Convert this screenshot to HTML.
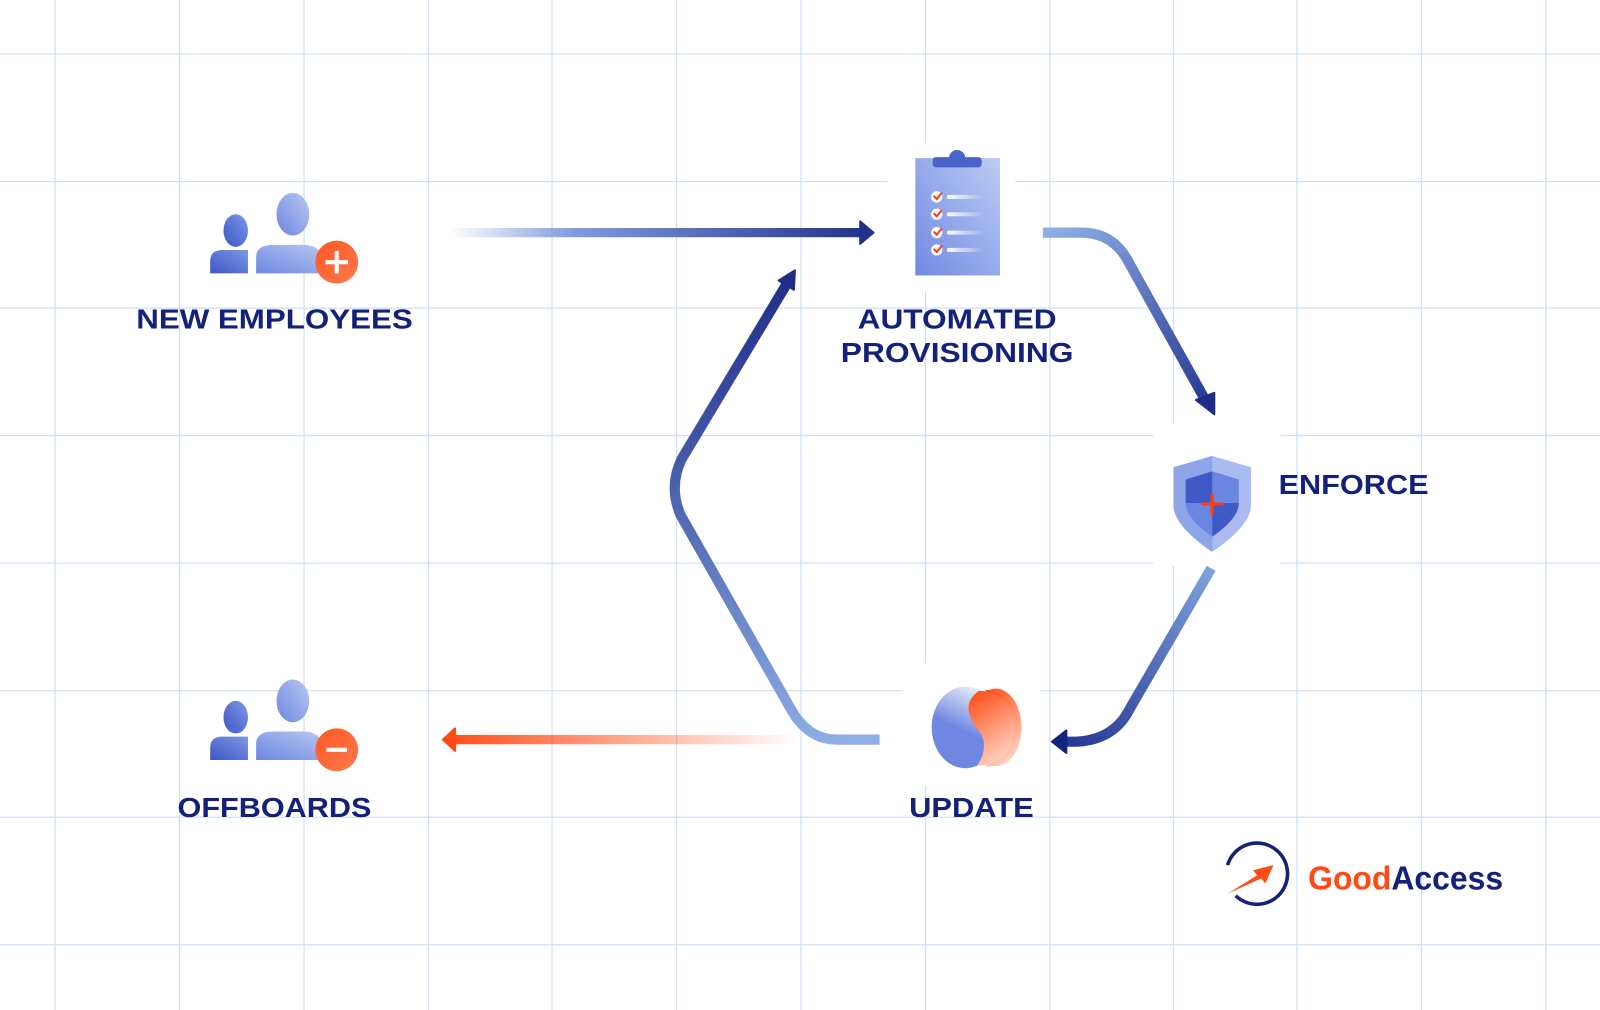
<!DOCTYPE html>
<html><head><meta charset="utf-8"><style>
html,body{margin:0;padding:0;background:#fff;width:1600px;height:1010px;overflow:hidden}
svg{display:block}
text{font-family:"Liberation Sans",Arial,sans-serif;font-weight:bold;fill:#14217a}
</style></head><body>
<svg width="1600" height="1010" viewBox="0 0 1568 990" preserveAspectRatio="none" xmlns="http://www.w3.org/2000/svg">
<defs>
<linearGradient id="hArr" x1="440" y1="0" x2="855" y2="0" gradientUnits="userSpaceOnUse"><stop offset="0" stop-color="#7f9ae0" stop-opacity="0"/><stop offset="0.3" stop-color="#7f9ae0"/><stop offset="1" stop-color="#22318a"/></linearGradient>
<linearGradient id="oArr" x1="785" y1="0" x2="435" y2="0" gradientUnits="userSpaceOnUse"><stop offset="0" stop-color="#ff5722" stop-opacity="0"/><stop offset="1" stop-color="#ff4a15"/></linearGradient>
<linearGradient id="a1" x1="1022" y1="228" x2="1187" y2="405" gradientUnits="userSpaceOnUse"><stop offset="0" stop-color="#8fb0e6"/><stop offset="1" stop-color="#233490"/></linearGradient>
<linearGradient id="a2" x1="1187" y1="557" x2="1035" y2="727" gradientUnits="userSpaceOnUse"><stop offset="0" stop-color="#7fa3dc"/><stop offset="1" stop-color="#243592"/></linearGradient>
<linearGradient id="a3" x1="862" y1="725" x2="777" y2="268" gradientUnits="userSpaceOnUse"><stop offset="0" stop-color="#8fb0e6"/><stop offset="1" stop-color="#1e2d88"/></linearGradient>
<linearGradient id="clip" x1="0" y1="1" x2="1" y2="0"><stop offset="0" stop-color="#7189e3"/><stop offset="1" stop-color="#bcccf3"/></linearGradient>
<linearGradient id="pers" x1="0" y1="1" x2="1" y2="0"><stop offset="0" stop-color="#6d87e0"/><stop offset="1" stop-color="#b9c8f2"/></linearGradient>
<linearGradient id="persD" x1="0" y1="1" x2="1" y2="0"><stop offset="0" stop-color="#3d58c4"/><stop offset="1" stop-color="#7d97e6"/></linearGradient>
<linearGradient id="orng" x1="0" y1="0" x2="1" y2="1"><stop offset="0" stop-color="#ff5722"/><stop offset="1" stop-color="#ff7a4f"/></linearGradient>
<linearGradient id="bl" x1="0.7" y1="0" x2="0.3" y2="1"><stop offset="0" stop-color="#eef1fc"/><stop offset="0.55" stop-color="#6f87e0"/></linearGradient>
<linearGradient id="rd" x1="0.3" y1="0" x2="0.7" y2="1"><stop offset="0" stop-color="#ff5420"/><stop offset="1" stop-color="#ffd8c8"/></linearGradient>
<linearGradient id="wl" x1="0" y1="0" x2="1" y2="0"><stop offset="0" stop-color="#fff"/><stop offset="1" stop-color="#fff" stop-opacity="0"/></linearGradient>
</defs>
<g stroke="#cfdff6" stroke-width="1.2">
<line x1="54" y1="0" x2="54" y2="990"/><line x1="176" y1="0" x2="176" y2="990"/><line x1="298" y1="0" x2="298" y2="990"/><line x1="420" y1="0" x2="420" y2="990"/><line x1="541" y1="0" x2="541" y2="990"/><line x1="663" y1="0" x2="663" y2="990"/><line x1="785" y1="0" x2="785" y2="990"/><line x1="907" y1="0" x2="907" y2="990"/><line x1="1029" y1="0" x2="1029" y2="990"/><line x1="1150" y1="0" x2="1150" y2="990"/><line x1="1271" y1="0" x2="1271" y2="990"/><line x1="1393" y1="0" x2="1393" y2="990"/><line x1="1515" y1="0" x2="1515" y2="990"/>
<line x1="0" y1="53" x2="1568" y2="53"/><line x1="0" y1="178" x2="1568" y2="178"/><line x1="0" y1="302" x2="1568" y2="302"/><line x1="0" y1="427" x2="1568" y2="427"/><line x1="0" y1="552" x2="1568" y2="552"/><line x1="0" y1="677" x2="1568" y2="677"/><line x1="0" y1="801" x2="1568" y2="801"/><line x1="0" y1="926" x2="1568" y2="926"/>
</g>
<rect x="870" y="140" width="125" height="145" fill="#fff"/>
<rect x="1130" y="415" width="125" height="140" fill="#fff"/>
<rect x="885" y="650" width="135" height="120" fill="#fff"/>
<rect x="1180" y="815" width="80" height="80" fill="#fff"/>
<!-- arrows -->
<line x1="440" y1="228" x2="845" y2="228" stroke="url(#hArr)" stroke-width="9"/>
<path d="M843 217 L856 228 L843 239 Z" fill="#22318a" stroke="#22318a" stroke-width="2" stroke-linejoin="round"/>
<path d="M1022 228 L1060 228 Q1090 228 1105 255 L1180 390" fill="none" stroke="url(#a1)" stroke-width="10"/>
<path d="M1172 392 L1190 406 L1190 385 Z" fill="#1d2c86" stroke="#1d2c86" stroke-width="2" stroke-linejoin="round"/>
<path d="M1187 557 L1107 695 Q1092 725 1055 727 L1045 727" fill="none" stroke="url(#a2)" stroke-width="10"/>
<path d="M1045 716 L1031 727 L1045 738 Z" fill="#14237e" stroke="#14237e" stroke-width="2" stroke-linejoin="round"/>
<path d="M862 725 L820 725 Q792 725 775 695 L667 505 Q655 477 668 450 L770 280" fill="none" stroke="url(#a3)" stroke-width="10"/>
<path d="M763 275 L779 265 L778 284 Z" fill="#1e2d88" stroke="#1e2d88" stroke-width="2" stroke-linejoin="round"/>
<line x1="785" y1="725" x2="446" y2="725" stroke="url(#oArr)" stroke-width="9"/>
<path d="M446 714 L434 725 L446 736 Z" fill="#ff4a15" stroke="#ff4a15" stroke-width="2" stroke-linejoin="round"/>
<!-- new employees -->
<g>
<ellipse cx="231" cy="226" rx="12" ry="16" fill="url(#persD)"/>
<path d="M206 268 L206 256 Q206 245 218 245 L243 245 L243 268 Z" fill="url(#persD)"/>
<ellipse cx="287" cy="210" rx="16" ry="21" fill="url(#pers)"/>
<path d="M251 268 L251 252 Q251 240 268 240 L300 240 Q318 242 318 262 L318 268 Z" fill="url(#pers)"/>
<circle cx="330" cy="257" r="21" fill="url(#orng)"/>
<path d="M330 246 V268 M319 257 H341" stroke="#fff" stroke-width="4"/>
</g>
<g transform="translate(0,477)">
<ellipse cx="231" cy="226" rx="12" ry="16" fill="url(#persD)"/>
<path d="M206 268 L206 256 Q206 245 218 245 L243 245 L243 268 Z" fill="url(#persD)"/>
<ellipse cx="287" cy="210" rx="16" ry="21" fill="url(#pers)"/>
<path d="M251 268 L251 252 Q251 240 268 240 L300 240 Q318 242 318 262 L318 268 Z" fill="url(#pers)"/>
<circle cx="330" cy="258" r="21" fill="url(#orng)"/>
<path d="M320 258 H340" stroke="#fff" stroke-width="4"/>
</g>
<!-- clipboard -->
<rect x="897" y="155" width="83" height="115" fill="url(#clip)"/>
<circle cx="938" cy="155" r="8" fill="#4a63c9"/>
<rect x="914" y="154" width="48" height="10" rx="3" fill="#4a63c9"/>
<g>
<circle cx="918" cy="193" r="5.5" fill="#fff"/><path d="M915 192 l3 3 l5 -6" stroke="#ff3d10" stroke-width="2" fill="none"/><rect x="928" y="191" width="36" height="4" rx="2" fill="url(#wl)"/>
<circle cx="918" cy="210" r="5.5" fill="#fff"/><path d="M915 209 l3 3 l5 -6" stroke="#ff3d10" stroke-width="2" fill="none"/><rect x="928" y="208" width="36" height="4" rx="2" fill="url(#wl)"/>
<circle cx="918" cy="228" r="5.5" fill="#fff"/><path d="M915 227 l3 3 l5 -6" stroke="#ff3d10" stroke-width="2" fill="none"/><rect x="928" y="226" width="36" height="4" rx="2" fill="url(#wl)"/>
<circle cx="918" cy="245" r="5.5" fill="#fff"/><path d="M915 244 l3 3 l5 -6" stroke="#ff3d10" stroke-width="2" fill="none"/><rect x="928" y="243" width="36" height="4" rx="2" fill="url(#wl)"/>
</g>
<!-- shield -->
<path d="M1188 447 L1226 458 L1226 495 Q1226 515 1188 541 Q1150 515 1150 495 L1150 458 Z" fill="#a9bbf0"/>
<path d="M1188 447 L1150 458 L1150 495 Q1150 515 1188 541 Z" fill="#8ea5ea"/>
<path d="M1188 462 L1162 470 L1162 493 Q1162 508 1188 526 Q1214 508 1214 493 L1214 470 Z" fill="#6b86e0"/>
<path d="M1188 462 L1162 470 L1162 493 L1188 493 Z" fill="#3f5ac6"/>
<path d="M1188 493 L1214 493 Q1214 508 1188 526 Z" fill="#3f5ac6"/>
<path d="M1188 484 V505 M1177 494 H1199" stroke="#ff3d10" stroke-width="3"/>
<!-- update -->
<ellipse cx="976" cy="713" rx="25" ry="38" fill="url(#rd)"/>
<ellipse cx="946" cy="713" rx="33" ry="40" fill="url(#bl)"/>
<path d="M966 676 Q996 680 998 714 Q996 748 966 752 Q982 736 976 722 Q966 710 966 696 Q964 684 966 676 Z" fill="url(#rd)"/>
<path d="M960 677 Q946 686 950 700 Q954 712 962 720 Q968 735 958 750 Q978 752 990 732 Q998 710 988 692 Q978 678 960 677 Z" fill="url(#rd)"/>
<!-- logo -->
<path d="M1203 848 A30 30 0 1 1 1211 878" fill="none" stroke="#14217a" stroke-width="3.5"/>
<path d="M1203 876 L1232 858 L1228 853 L1248 848 L1240 866 L1236 861 Z" fill="#ff4a15"/>
<!-- labels -->
<text x="269" y="322" text-anchor="middle" font-size="27" textLength="271" lengthAdjust="spacingAndGlyphs">NEW EMPLOYEES</text>
<text x="938" y="322" text-anchor="middle" font-size="27" textLength="195" lengthAdjust="spacingAndGlyphs">AUTOMATED</text>
<text x="938" y="355" text-anchor="middle" font-size="27" textLength="228" lengthAdjust="spacingAndGlyphs">PROVISIONING</text>
<text x="1253" y="484" font-size="27" textLength="147" lengthAdjust="spacingAndGlyphs">ENFORCE</text>
<text x="269" y="801" text-anchor="middle" font-size="27" textLength="190" lengthAdjust="spacingAndGlyphs">OFFBOARDS</text>
<text x="952" y="801" text-anchor="middle" font-size="27" textLength="122" lengthAdjust="spacingAndGlyphs">UPDATE</text>
<text x="1282" y="872" font-size="33" textLength="191" lengthAdjust="spacingAndGlyphs"><tspan style="fill:#ff4a15">Good</tspan><tspan style="fill:#14217a">Access</tspan></text>
</svg>
</body></html>
